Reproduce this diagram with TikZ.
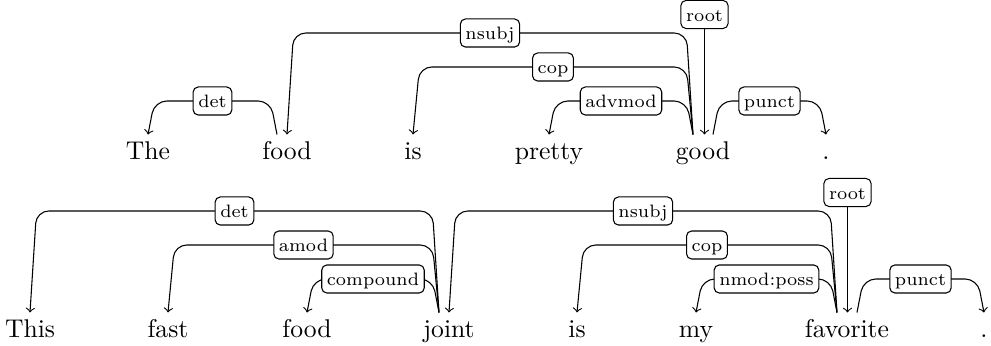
\documentclass[tikz,border=0pt]{standalone}
\usetikzlibrary{calc}
\tikzset{
  word/.style={anchor=base, inner xsep=0pt, inner ysep=2.36pt, text height=7pt, text depth=0pt, font=\normalsize},
  lab/.style={draw, fill=white, rounded corners=2pt, inner xsep=2pt, inner ysep=1.7pt, font=\scriptsize, text height=1.5ex, text depth=0.25ex},
  dep/.style={->, rounded corners=4.8pt, line width=0.42pt},
}
\newcommand\depedge[7]{%
  \draw[dep] ($(#1.north)+(#3,0)$) -- ++(#4,#6) -- node[lab]{#7} ($(#2.north)+(#5,#6)$) -- (#2.north);}
\begin{document}
\begin{tikzpicture}[x=0.39pt, y=0.39pt]
\useasboundingbox (0,0) rectangle (991,345);
% top sentence
\node[word] (the)    at (148,186) {The};
\node[word] (foodA)  at (287,186) {food};
\node[word] (isA)    at (413,186) {is};
\node[word] (pretty) at (549,186) {pretty};
\node[word] (good)   at (703,186) {good};
\node[word] (dotA)   at (826,186) {.};
\depedge{foodA}{the}{-10}{-6.5}{6.5}{33.5}{det}
\depedge{good}{foodA}{-10}{-6.5}{6.5}{101.5}{nsubj}
\depedge{good}{isA}{-10}{-6.5}{6.5}{67.5}{cop}
\depedge{good}{pretty}{-10}{-6.5}{6.5}{33.5}{advmod}
\depedge{good}{dotA}{10}{6.5}{-6.5}{33.5}{punct}
\node[lab] (rootA) at ($(good.north)+(1.5,120)$) {root};
\draw[dep] (rootA.south) -- (rootA.south |- good.north);
% bottom sentence
\node[word] (this)  at (30,8) {This};
\node[word] (fast)  at (168,8) {fast};
\node[word] (foodB) at (307,8) {food};
\node[word] (joint) at (449,8) {joint};
\node[word] (isB)   at (577,8) {is};
\node[word] (my)    at (696,8) {my};
\node[word] (fav)   at (847,8) {favorite};
\node[word] (dotB)  at (984,8) {.};
\depedge{joint}{this}{-10}{-6.5}{6.5}{101.5}{det}
\depedge{joint}{fast}{-10}{-6.5}{6.5}{67.5}{amod}
\depedge{joint}{foodB}{-10}{-6.5}{6.5}{33.5}{compound}
\depedge{fav}{joint}{-10}{-6.5}{6.5}{101.5}{nsubj}
\depedge{fav}{isB}{-10}{-6.5}{6.5}{67.5}{cop}
\depedge{fav}{my}{-10}{-6.5}{6.5}{33.5}{nmod:poss}
\depedge{fav}{dotB}{10}{6.5}{-6.5}{33.5}{punct}
\node[lab] (rootB) at ($(fav.north)+(0.5,120)$) {root};
\draw[dep] (rootB.south) -- (rootB.south |- fav.north);
\end{tikzpicture}
\end{document}
